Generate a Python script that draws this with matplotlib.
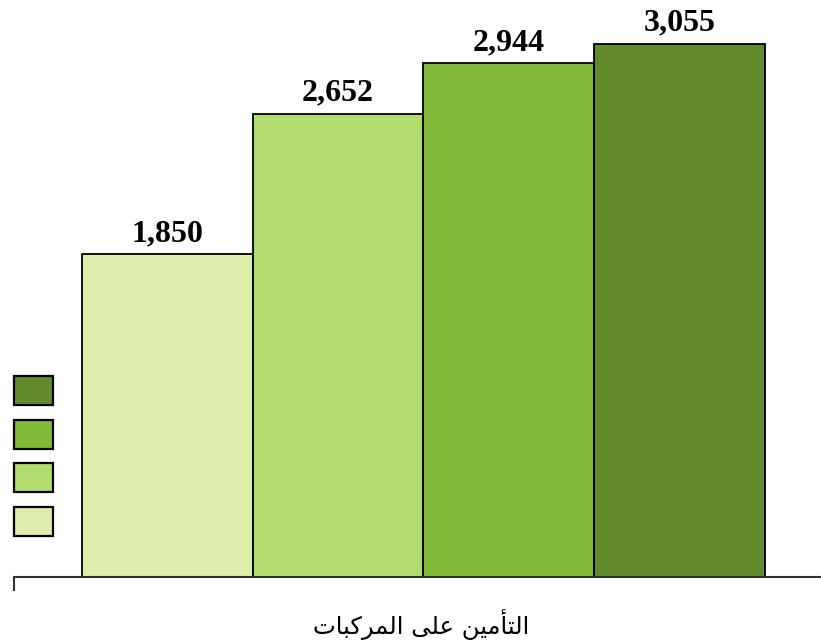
import matplotlib
matplotlib.use("Agg")
import matplotlib.pyplot as plt
from matplotlib.patches import Patch

# data
values = [1850, 2652, 2944, 3055]
colors = ["#dceeaa", "#b0de6e", "#80ba38", "#628b2e"]
series_labels = ["2019", "2020", "2021", "2022"]
xlabel_text = "التأمين على المركبات"

# --- tiny arabic shaping (matplotlib has no bidi / joining) ---
FORMS = {
    # letter: (isolated, final, initial, medial)
    "ا": ("\uFE8D", "\uFE8E", None, None),
    "أ": ("\uFE83", "\uFE84", None, None),
    "ر": ("\uFEAD", "\uFEAE", None, None),
    "ل": ("\uFEDD", "\uFEDE", "\uFEDF", "\uFEE0"),
    "ت": ("\uFE95", "\uFE96", "\uFE97", "\uFE98"),
    "م": ("\uFEE1", "\uFEE2", "\uFEE3", "\uFEE4"),
    "ي": ("\uFEF1", "\uFEF2", "\uFEF3", "\uFEF4"),
    "ن": ("\uFEE5", "\uFEE6", "\uFEE7", "\uFEE8"),
    "ع": ("\uFEC9", "\uFECA", "\uFECB", "\uFECC"),
    "ى": ("\uFEEF", "\uFEF0", "\uFBE8", "\uFBE9"),
    "ك": ("\uFED9", "\uFEDA", "\uFEDB", "\uFEDC"),
    "ب": ("\uFE8F", "\uFE90", "\uFE91", "\uFE92"),
}


def shape(text):
    out = []
    for i, ch in enumerate(text):
        if ch not in FORMS:
            out.append(ch)
            continue
        prev = text[i - 1] if i > 0 else ""
        nxt = text[i + 1] if i + 1 < len(text) else ""
        join_prev = prev in FORMS and FORMS[prev][2] is not None
        join_next = nxt in FORMS and FORMS[ch][2] is not None
        iso, fin, ini, med = FORMS[ch]
        if join_prev and join_next:
            out.append(med)
        elif join_prev:
            out.append(fin)
        elif join_next:
            out.append(ini)
        else:
            out.append(iso)
    return "".join(out)[::-1]


fig = plt.figure(figsize=(8.21, 6.43), dpi=100)
ax = fig.add_axes([14 / 821, 66 / 643, 1 - 14 / 821, 1 - 66 / 643])

x = list(range(len(values)))
ax.bar(x, values, width=1.0, color=colors, edgecolor="black", linewidth=1.3)

for xi, v in zip(x, values):
    ax.text(xi, v + 35, f"{v:,}", ha="center", va="bottom",
            fontsize=23, fontweight="bold", family="Liberation Serif")

ax.set_xlim(-0.898, 3.828)
ax.set_ylim(0, 3305)

for s in ["top", "right", "left"]:
    ax.spines[s].set_visible(False)
ax.spines["bottom"].set_color("#333333")
ax.spines["bottom"].set_linewidth(1.5)
ax.set_yticks([])
ax.set_xticks([-0.898])
ax.set_xticklabels([])
ax.tick_params(axis="x", length=10, width=1.5, color="#333333", direction="out")

fig.text(421 / 821, 3 / 643, shape(xlabel_text), ha="center", va="bottom",
         fontsize=17.5, family="DejaVu Sans")

handles = [Patch(facecolor=c, edgecolor="black", linewidth=1.6) for c in colors]
fig.legend(handles[::-1], series_labels[::-1], loc="upper right",
           bbox_to_anchor=(53 / 821, 1 - 376 / 643), frameon=False,
           markerfirst=False, fontsize=14, borderpad=0, borderaxespad=0,
           handlelength=2.0, handleheight=1.92, labelspacing=0.75,
           handletextpad=0.7)

fig.savefig("out.png", dpi=100)
